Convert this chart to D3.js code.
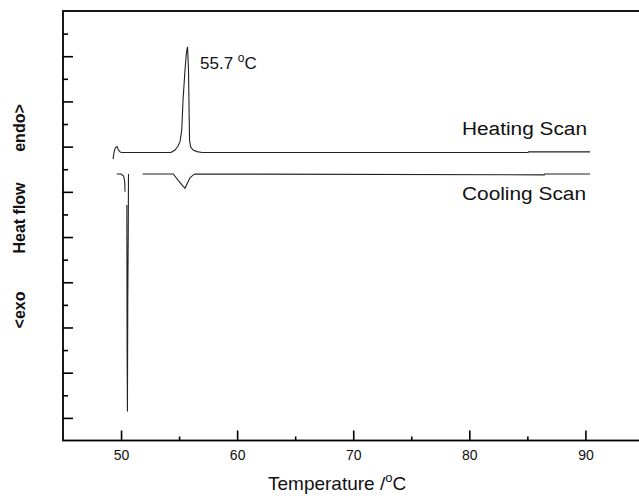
<!DOCTYPE html>
<html>
<head>
<meta charset="utf-8">
<script src="https://cdn.jsdelivr.net/npm/d3@7"></script>
<style>
  body { margin: 0; background: #fff; }
  svg { display: block; overflow: hidden; font-family: "Liberation Sans", Arial, sans-serif; }
</style>
</head>
<body>
<svg id="chart" width="639" height="502"></svg>
<script>
// DSC scans, temperature (°C) vs heat flow (arbitrary units, endo up)
const heatTemp = [49.31, 49.40, 49.50, 49.66, 49.78, 49.92, 50.10, 54.30, 54.65, 54.91, 55.08, 55.23, 55.34, 55.51, 55.64, 55.73, 55.81, 55.86, 55.90, 55.99, 56.20, 56.55, 56.98, 85.05, 85.10, 90.40];
const heatFlow = [11.45, 11.75, 11.95, 12.00, 11.85, 11.76, 11.74, 11.74, 11.85, 12.03, 12.22, 12.74, 14.07, 15.39, 16.19, 16.41, 15.39, 13.62, 12.30, 11.99, 11.85, 11.78, 11.74, 11.74, 11.77, 11.77];

// null marks a break in the recorded trace
const coolTemp = [49.63, 50.00, 50.22, 50.32, 50.34, 50.35, 50.50, 50.52, 50.55, 50.58, 50.62, 50.64, 50.66, 50.70, 51.86, 54.50, 54.94, 55.37, 55.51, 55.68, 55.94, 56.20, 56.37, 86.45, 86.50, 90.40];
const coolFlow = [10.79, 10.79, 10.70, 10.44, 10.00, null, 9.42, 3.10, 0.28, 5.20, 8.22, 10.79, null, null, 10.79, 10.79, 10.50, 10.23, 10.16, 10.35, 10.62, 10.74, 10.79, 10.75, 10.79, 10.79];

const xMajor = [50, 60, 70, 80, 90];
const xMinor = [55, 65, 75, 85, 95];
const yMajor = [0, 2, 4, 6, 8, 10, 12, 14, 16];
const yMinor = [1, 3, 5, 7, 9, 11, 13, 15, 17];

const margin = { top: 11, left: 63 };
const width = 638.5, height = 429.5;

const svg = d3.select("#chart");
const x = d3.scaleLinear().domain([45, 100]).range([margin.left, margin.left + width]);
const y = d3.scaleLinear().domain([-1, 18]).range([margin.top + height, margin.top]);

const heating = heatTemp.map((t, i) => [t, heatFlow[i]]);
const cooling = coolTemp.map((t, i) => [t, coolFlow[i]]);

const line = d3.line()
    .defined(d => d[1] != null)
    .x(d => x(d[0]))
    .y(d => y(d[1]));

// x axis ticks (inside) and labels
const xAxis = svg.append("g")
    .attr("transform", `translate(0, ${margin.top + height})`)
    .call(d3.axisBottom(x).tickValues(xMajor).tickSizeInner(-10).tickSizeOuter(0).tickPadding(10).tickFormat(d3.format("d")));
xAxis.selectAll(".tick line").attr("stroke", "#000").attr("stroke-width", 1.6);
xAxis.selectAll("text").attr("font-size", 14).attr("fill", "#111");
xAxis.select(".domain").remove();

const xMinorAxis = svg.append("g")
    .attr("transform", `translate(0, ${margin.top + height})`)
    .call(d3.axisBottom(x).tickValues(xMinor).tickSizeInner(-4).tickSizeOuter(0).tickFormat(""));
xMinorAxis.selectAll(".tick line").attr("stroke", "#000").attr("stroke-width", 1.6);
xMinorAxis.select(".domain").remove();

// y axis ticks, no labels
const yAxis = svg.append("g")
    .attr("transform", `translate(${margin.left}, 0)`)
    .call(d3.axisLeft(y).tickValues(yMajor).tickSizeInner(-10).tickSizeOuter(0).tickFormat(""));
yAxis.selectAll(".tick line").attr("stroke", "#000").attr("stroke-width", 1.6);
yAxis.select(".domain").remove();

const yMinorAxis = svg.append("g")
    .attr("transform", `translate(${margin.left}, 0)`)
    .call(d3.axisLeft(y).tickValues(yMinor).tickSizeInner(-5).tickSizeOuter(0).tickFormat(""));
yMinorAxis.selectAll(".tick line").attr("stroke", "#000").attr("stroke-width", 1.6);
yMinorAxis.select(".domain").remove();

// frame
svg.append("rect")
    .attr("x", margin.left).attr("y", margin.top)
    .attr("width", width).attr("height", height)
    .attr("fill", "none").attr("stroke", "#000").attr("stroke-width", 1.8);

// traces
svg.append("path").datum(heating)
    .attr("d", line).attr("fill", "none").attr("stroke", "#222").attr("stroke-width", 1.1);
svg.append("path").datum(cooling)
    .attr("d", line).attr("fill", "none").attr("stroke", "#222").attr("stroke-width", 1.1);

// annotations
const peak = svg.append("text").attr("x", 200).attr("y", 69).attr("font-size", 17).attr("fill", "#111");
peak.append("tspan").text("55.7 ");
peak.append("tspan").attr("font-size", 12).attr("dy", -7).text("o");
peak.append("tspan").attr("dy", 7).text("C");

svg.append("text").attr("x", 462).attr("y", 135)
    .attr("font-size", 18).attr("textLength", 125).attr("lengthAdjust", "spacingAndGlyphs")
    .attr("fill", "#111").text("Heating Scan");
svg.append("text").attr("x", 462).attr("y", 200)
    .attr("font-size", 18).attr("textLength", 124).attr("lengthAdjust", "spacingAndGlyphs")
    .attr("fill", "#111").text("Cooling Scan");

// axis titles
const xt = svg.append("text").attr("x", 268).attr("y", 490).attr("font-size", 19).attr("fill", "#111");
xt.append("tspan").text("Temperature /");
xt.append("tspan").attr("font-size", 13).attr("dy", -8).text("o");
xt.append("tspan").attr("dy", 8).text("C");

const yLabels = [["endo>", 128], ["Heat flow", 218], ["<exo", 310]];
svg.selectAll(".ylab").data(yLabels).join("text")
    .attr("class", "ylab")
    .attr("transform", d => `translate(25, ${d[1]}) rotate(-90)`)
    .attr("text-anchor", "middle")
    .attr("font-size", 16).attr("font-weight", "bold").attr("fill", "#111")
    .text(d => d[0]);
</script>
</body>
</html>
